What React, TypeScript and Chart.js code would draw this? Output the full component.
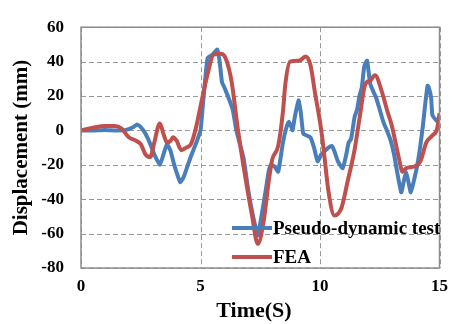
import React, { useEffect, useRef } from "react";
import { Chart, registerables } from "chart.js";

Chart.register(...registerables);

// Pseudo-dynamic test (time in s, displacement in mm)
const testTime = [0, 0.5, 1, 1.5, 1.9, 2.2, 2.35, 2.5, 2.7, 2.9, 3.1, 3.3, 3.45, 3.6, 3.75, 3.9, 4.15, 4.3, 4.6, 4.8, 5.0, 5.1, 5.2, 5.3, 5.5, 5.7, 5.8, 5.9, 6.0, 6.2, 6.35, 6.5, 6.65, 6.8, 7.0, 7.2, 7.4, 7.55, 7.75, 7.85, 7.95, 8.1, 8.25, 8.45, 8.6, 8.7, 8.8, 8.85, 8.95, 9.1, 9.2, 9.3, 9.45, 9.6, 9.75, 9.9, 10.05, 10.2, 10.35, 10.5, 10.6, 10.75, 10.95, 11.1, 11.2, 11.3, 11.45, 11.55, 11.65, 11.75, 11.85, 11.97, 12.1, 12.25, 12.35, 12.5, 12.65, 12.8, 12.95, 13.1, 13.2, 13.4, 13.5, 13.6, 13.7, 13.8, 13.95, 14.1, 14.3, 14.4, 14.5, 14.55, 14.65, 14.7, 14.85, 15];
const testDisp = [0, 0, 0.3, 0, 0.3, 2, 3.5, 2, -2, -8, -15, -20, -14, -8, -12, -20, -30, -27, -15, -8, 0, 15, 30, 42, 44, 47, 40, 28, 25, 18, 12, 0, -8, -16, -35, -50, -61, -50, -33, -24, -20, -21, -24, -7, 2, 5, 2, 0, 8, 17.5, 10, -2, -3, -4, -10, -18, -14, -12, -10, -9, -12, -18, -22, -14, -7, -5, 8, 12, 20, 25, 37, 40.5, 27, 22, 19, 12, 5, 0, -5.5, -14, -22, -36, -30, -24, -30, -36, -28, -18, 2, 15, 26, 25, 19, 9, 6, 4];

// FEA
const feaTime = [0, 0.5, 1.0, 1.4, 1.7, 2.0, 2.3, 2.5, 2.7, 2.9, 3.05, 3.3, 3.45, 3.6, 3.75, 3.85, 4.0, 4.2, 4.4, 4.6, 4.8, 5.0, 5.3, 5.55, 5.85, 6.05, 6.3, 6.55, 6.85, 7.15, 7.4, 7.65, 7.85, 8.0, 8.25, 8.45, 8.55, 8.75, 9.1, 9.2, 9.4, 9.6, 9.8, 10.0, 10.1, 10.2, 10.35, 10.6, 10.9, 11.15, 11.45, 11.65, 11.9, 12.1, 12.3, 12.6, 12.8, 13.0, 13.3, 13.45, 13.6, 13.95, 14.2, 14.45, 14.7, 14.9, 15];
const feaDisp = [0, 1.5, 2.5, 2.5, 1, -4, -6, -8, -14, -15.5, -8, 4, -2, -7, -6, -4, -6, -11.5, -10, -8, 1, 14, 33, 44, 44.5, 42, 28.5, 2, -25, -49, -66, -52, -30, -17, -9, 11, 27, 40, 40.5, 41, 43, 38, 21, 5, -5, -17, -35, -49.5, -45, -30, -11, 6.6, 27, 29, 32, 22, 12, 3, -16, -24, -22, -21, -18, -7, -3, 1, 10];

const xTicks = [0, 5, 10, 15];
const yTicks = [-80, -60, -40, -20, 0, 20, 40, 60];

const seriesNames = ["Pseudo-dynamic test", "FEA"];
const BLUE = "#4a7ebb";
const RED = "#c0504d";
const GRID = "#999999";
const FONT = "'Liberation Serif', 'Times New Roman', serif";

const framePlugin = {
  id: "frame",
  beforeDatasetsDraw(chart: any) {
    const { ctx, chartArea, scales } = chart;
    ctx.save();
    ctx.strokeStyle = GRID;
    ctx.lineWidth = 1;
    ctx.setLineDash([5, 3]);
    for (const v of yTicks) {
      const y = Math.round(scales.y.getPixelForValue(v)) + 0.5;
      ctx.beginPath();
      ctx.moveTo(chartArea.left, y);
      ctx.lineTo(chartArea.right, y);
      ctx.stroke();
    }
    for (const v of xTicks) {
      const x = Math.round(scales.x.getPixelForValue(v)) + 0.5;
      ctx.beginPath();
      ctx.moveTo(x, chartArea.top);
      ctx.lineTo(x, chartArea.bottom);
      ctx.stroke();
    }
    ctx.restore();
  },
  afterDatasetsDraw(chart: any) {
    const { ctx, chartArea } = chart;
    ctx.save();
    ctx.strokeStyle = "#8c8c8c";
    ctx.lineWidth = 1.5;
    ctx.strokeRect(chartArea.left, chartArea.top, chartArea.right - chartArea.left, chartArea.bottom - chartArea.top);
    ctx.restore();
  },
  afterDraw(chart: any) {
    const { ctx, chartArea } = chart;
    ctx.save();
    // legend
    const lx = chartArea.left + 151;
    const rows = [
      { y: chartArea.bottom - 40, color: BLUE, text: seriesNames[0] },
      { y: chartArea.bottom - 11, color: RED, text: seriesNames[1] },
    ];
    ctx.font = `bold 19px ${FONT}`;
    ctx.textBaseline = "middle";
    ctx.textAlign = "left";
    for (const r of rows) {
      ctx.strokeStyle = r.color;
      ctx.lineWidth = 4;
      ctx.beginPath();
      ctx.moveTo(lx, r.y);
      ctx.lineTo(lx + 40, r.y);
      ctx.stroke();
      ctx.fillStyle = "#000";
      ctx.fillText(r.text, lx + 41, r.y + 1);
    }
    // x axis title
    ctx.font = `bold 22px ${FONT}`;
    ctx.textAlign = "center";
    ctx.fillText("Time(S)", 254, 311);
    ctx.restore();
  },
};

export default function App() {
  const ref = useRef<HTMLCanvasElement | null>(null);
  useEffect(() => {
    if (!ref.current) return;
    const chart = new Chart(ref.current, {
      type: "line",
      data: {
        datasets: [
          {
            label: seriesNames[0],
            data: testTime.map((t, i) => ({ x: t, y: testDisp[i] })),
            borderColor: BLUE,
            backgroundColor: BLUE,
            borderWidth: 4,
            pointRadius: 0,
            tension: 0.15,
            order: 1,
          },
          {
            label: seriesNames[1],
            data: feaTime.map((t, i) => ({ x: t, y: feaDisp[i] })),
            borderColor: RED,
            backgroundColor: RED,
            borderWidth: 4,
            pointRadius: 0,
            cubicInterpolationMode: "monotone",
            order: 0,
          },
        ],
      },
      options: {
        animation: false,
        responsive: false,
        maintainAspectRatio: false,
        layout: { padding: { top: 13, right: 9, left: 0, bottom: 0 } },
        plugins: { legend: { display: false }, tooltip: { enabled: false } },
        scales: {
          x: {
            type: "linear",
            min: 0,
            max: 15,
            afterBuildTicks: (s: any) => {
              s.ticks = xTicks.map((v) => ({ value: v }));
            },
            afterFit: (s: any) => {
              s.height = 56;
            },
            ticks: {
              color: "#000",
              padding: 8,
              font: { family: FONT, size: 17, weight: "bold" },
            },
            grid: { display: false, drawTicks: false },
            border: { display: false },
          },
          y: {
            type: "linear",
            min: -80,
            max: 60,
            afterBuildTicks: (s: any) => {
              s.ticks = yTicks.map((v) => ({ value: v }));
            },
            afterFit: (s: any) => {
              s.width = 81;
            },
            ticks: {
              color: "#000",
              padding: 17,
              font: { family: FONT, size: 17, weight: "bold" },
            },
            grid: { display: false, drawTicks: false },
            border: { display: false },
            title: {
              display: true,
              text: "Displacement (mm)",
              color: "#000",
              font: { family: FONT, size: 21, weight: "bold" },
              padding: { top: 9, bottom: 0 },
            },
          },
        },
      },
      plugins: [framePlugin],
    } as any);
    return () => chart.destroy();
  }, []);
  return (
    <div style={{ position: "absolute", left: 0, top: 0, width: 456, height: 324, background: "#fff" }}>
      <canvas ref={ref} width={456} height={324} />
    </div>
  );
}
